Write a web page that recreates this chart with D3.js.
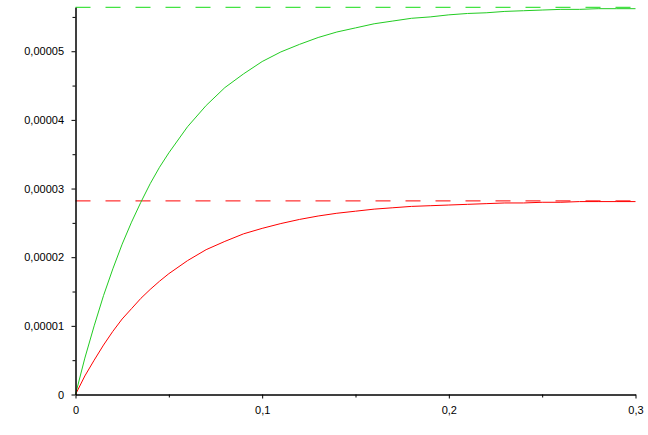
<!DOCTYPE html>
<html><head><meta charset="utf-8">
<script src="https://cdn.jsdelivr.net/npm/d3@7"></script>
<style>html,body{margin:0;padding:0;background:#fff;}svg{display:block;}</style>
</head><body>
<svg id="chart" width="648" height="435"></svg>
<script>
// x values of the sampled curves
const xValues = [0,0.005,0.01,0.015,0.02,0.025,0.03,0.035,0.04,0.045,0.05,0.06,0.07,0.08,0.09,0.10,0.11,0.12,0.13,0.14,0.15,0.16,0.17,0.18,0.19,0.20,0.21,0.22,0.23,0.24,0.25,0.26,0.27,0.28,0.29,0.30];
// green curve values, in units of 1e-5
const greenValues = [0,0.53,1.00,1.44,1.83,2.19,2.51,2.80,3.07,3.31,3.52,3.90,4.21,4.47,4.67,4.85,4.99,5.10,5.20,5.28,5.34,5.40,5.44,5.48,5.50,5.53,5.55,5.56,5.58,5.59,5.60,5.61,5.61,5.62,5.62,5.62];
// red curve values, in units of 1e-5
const redValues = [0,0.27,0.50,0.72,0.92,1.10,1.25,1.40,1.53,1.65,1.76,1.95,2.11,2.23,2.34,2.42,2.49,2.55,2.60,2.64,2.67,2.70,2.72,2.74,2.75,2.76,2.77,2.78,2.79,2.79,2.80,2.80,2.81,2.81,2.81,2.81];
// asymptote levels, in units of 1e-5
const greenLimit = 5.64;
const redLimit = 2.82;
// ticks
const xTicks = [0, 0.1, 0.2, 0.3];
const xMinorTicks = [0.05, 0.15, 0.25];
const yTicks = [0, 1, 2, 3, 4, 5];           // ×1e-5
const yMinorTicks = [0.5, 1.5, 2.5, 3.5, 4.5, 5.5];
const xDomain = [0, 0.3];
const yDomain = [0, 5.64];

const svg = d3.select("#chart");
const x = d3.scaleLinear().domain(xDomain).range([75.5, 635.5]);
const y = d3.scaleLinear().domain(yDomain).range([394.5, 7.3]);

const loc = d3.formatLocale({decimal: ",", thousands: ".", grouping: [3], currency: ["", ""]});
const fx = loc.format(".1f");
const fy = loc.format(".5f");

const font = "'Liberation Sans', Arial, sans-serif";

// dashed asymptotes
const dashed = [[greenLimit, "#14dc14"], [redLimit, "#ff0000"]];
svg.selectAll("line.asym").data(dashed).enter().append("line")
  .attr("class", "asym")
  .attr("x1", x(xDomain[0])).attr("x2", x(xDomain[1]))
  .attr("y1", d => y(d[0])).attr("y2", d => y(d[0]))
  .attr("stroke", d => d[1]).attr("stroke-width", 1)
  .attr("stroke-dasharray", "15,15");

// curves
const line = d3.line().x(d => x(d[0])).y(d => y(d[1]));
svg.append("path").datum(xValues.map((v, i) => [v, redValues[i]]))
  .attr("d", line).attr("fill", "none").attr("stroke", "#ff0000").attr("stroke-width", 1);
svg.append("path").datum(xValues.map((v, i) => [v, greenValues[i]]))
  .attr("d", line).attr("fill", "none").attr("stroke", "#22cc22").attr("stroke-width", 1);

// axes
const yAxis = d3.axisLeft(y).tickValues(yTicks).tickSize(4).tickSizeOuter(0).tickPadding(7.5)
  .tickFormat(d => d === 0 ? "0" : fy(d * 1e-5));
const yMinor = d3.axisLeft(y).tickValues(yMinorTicks).tickSize(3).tickSizeOuter(0).tickFormat("");
const xAxis = d3.axisBottom(x).tickValues(xTicks).tickSize(4).tickSizeOuter(0).tickPadding(8)
  .tickFormat(d => d === 0 ? "0" : fx(d));
const xMinor = d3.axisBottom(x).tickValues(xMinorTicks).tickSize(3).tickSizeOuter(0).tickFormat("");

function style(g) {
  g.attr("font-family", font).attr("font-size", 11);
  g.selectAll("path.domain").attr("stroke", "#000");
  g.selectAll(".tick line").attr("stroke", "#000");
  g.selectAll(".tick text").attr("fill", "#000");
}
svg.append("g").attr("transform", "translate(75.5,0)").call(yMinor).call(style);
svg.append("g").attr("transform", "translate(75.5,0)").call(yAxis).call(style);
svg.append("g").attr("transform", "translate(0,394.5)").call(xMinor).call(style);
svg.append("g").attr("transform", "translate(0,394.5)").call(xAxis).call(style);
</script>
</body></html>
